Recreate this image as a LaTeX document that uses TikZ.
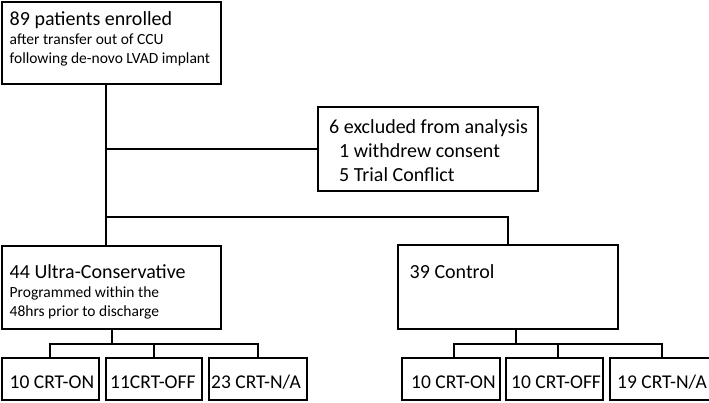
\documentclass[tikz,border=0pt]{standalone}
\usepackage{fontspec}
\setmainfont{Carlito}
\begin{document}
\begin{tikzpicture}[x=1pt,y=-1pt,
  box/.style={draw=black, line width=1.4pt, rectangle, anchor=north west, outer sep=0pt, inner sep=0pt},
  big/.style={font=\fontsize{20}{24}\selectfont, anchor=base west, inner sep=0pt},
  mid/.style={font=\fontsize{20}{24}\selectfont, anchor=base west, inner sep=0pt},
  sml/.style={font=\fontsize{15.5}{19}\selectfont, anchor=base west, inner sep=0pt},
  cnt/.style={font=\fontsize{19.5}{22}\selectfont, anchor=base west, inner sep=0pt},
  conn/.style={draw=black, line width=1.4pt}]
\useasboundingbox[fill=white] (0,0) rectangle (709,402);
% boxes
\node[box, minimum width=219pt, minimum height=82pt] (top) at (2,2) {};
\node[box, minimum width=220pt, minimum height=84pt] (excl) at (318,107) {};
\node[box, minimum width=219pt, minimum height=83pt] (left) at (2,246) {};
\node[box, minimum width=220pt, minimum height=84pt] (ctrl) at (398,245) {};
\node[box, minimum width=97pt, minimum height=42pt] (l1) at (2,358) {};
\node[box, minimum width=96pt, minimum height=42pt] (l2) at (106,358) {};
\node[box, minimum width=98pt, minimum height=42pt] (l3) at (209,358) {};
\node[box, minimum width=98pt, minimum height=42pt] (r1) at (402,358) {};
\node[box, minimum width=97pt, minimum height=42pt] (r2) at (506,358) {};
\node[box, minimum width=110pt, minimum height=42pt] (r3) at (610,358) {};
% texts
\node[big] (t1) at (9.5,25) {89 patients enrolled};
\node[sml] (t2) at (9.5,44) {after transfer out of CCU};
\node[sml] (t3) at (9.5,63) {following de-novo LVAD implant};
\node[mid] (e1) at (329,133) {6 excluded from analysis};
\node[mid] (e2) at (339,157) {1 withdrew consent};
\node[mid] (e3) at (339,181) {5 Trial Conflict};
\node[big] (u1) at (9.5,278) {44 Ultra-Conservative};
\node[sml] (u2) at (9.5,297) {Programmed within the};
\node[sml] (u3) at (9.5,316) {48hrs prior to discharge};
\node[big] (c1) at (409.5,278) {39 Control};
\node[cnt] (n1) at (9.5,388) {10 CRT-ON};
\node[cnt] (n2) at (110,388) {11CRT-OFF};
\node[cnt] (n3) at (211,388) {23 CRT-N/A};
\node[cnt] (n4) at (411,388) {10 CRT-ON};
\node[cnt] (n5) at (511,388) {10 CRT-OFF};
\node[cnt] (n6) at (617,388) {19 CRT-N/A};
% connectors
\coordinate (j1) at (106,149);
\coordinate (j2) at (106,217);
\draw[conn] (top.south -| j1) -- (j1) -- (j2) -- (left.north -| j2);
\draw[conn] (j1) -- (excl.west);
\draw[conn] (j2) -| (ctrl.north);
% left subgroups
\coordinate (lb1) at (50,344);
\coordinate (lb2) at (154,344);
\coordinate (lb3) at (258,344);
\coordinate (ls) at (112,344);
\draw[conn] (left.south -| ls) -- (ls);
\draw[conn] (l1.north -| lb1) -- (lb1) -- (lb3) -- (l3.north -| lb3);
\draw[conn] (lb2) -- (l2.north -| lb2);
% right subgroups
\coordinate (rb1) at (454,344);
\coordinate (rb2) at (558,344);
\coordinate (rb3) at (662,344);
\coordinate (rs) at (516,344);
\draw[conn] (ctrl.south -| rs) -- (rs);
\draw[conn] (r1.north -| rb1) -- (rb1) -- (rb3) -- (r3.north -| rb3);
\draw[conn] (rb2) -- (r2.north -| rb2);
\end{tikzpicture}
\end{document}
